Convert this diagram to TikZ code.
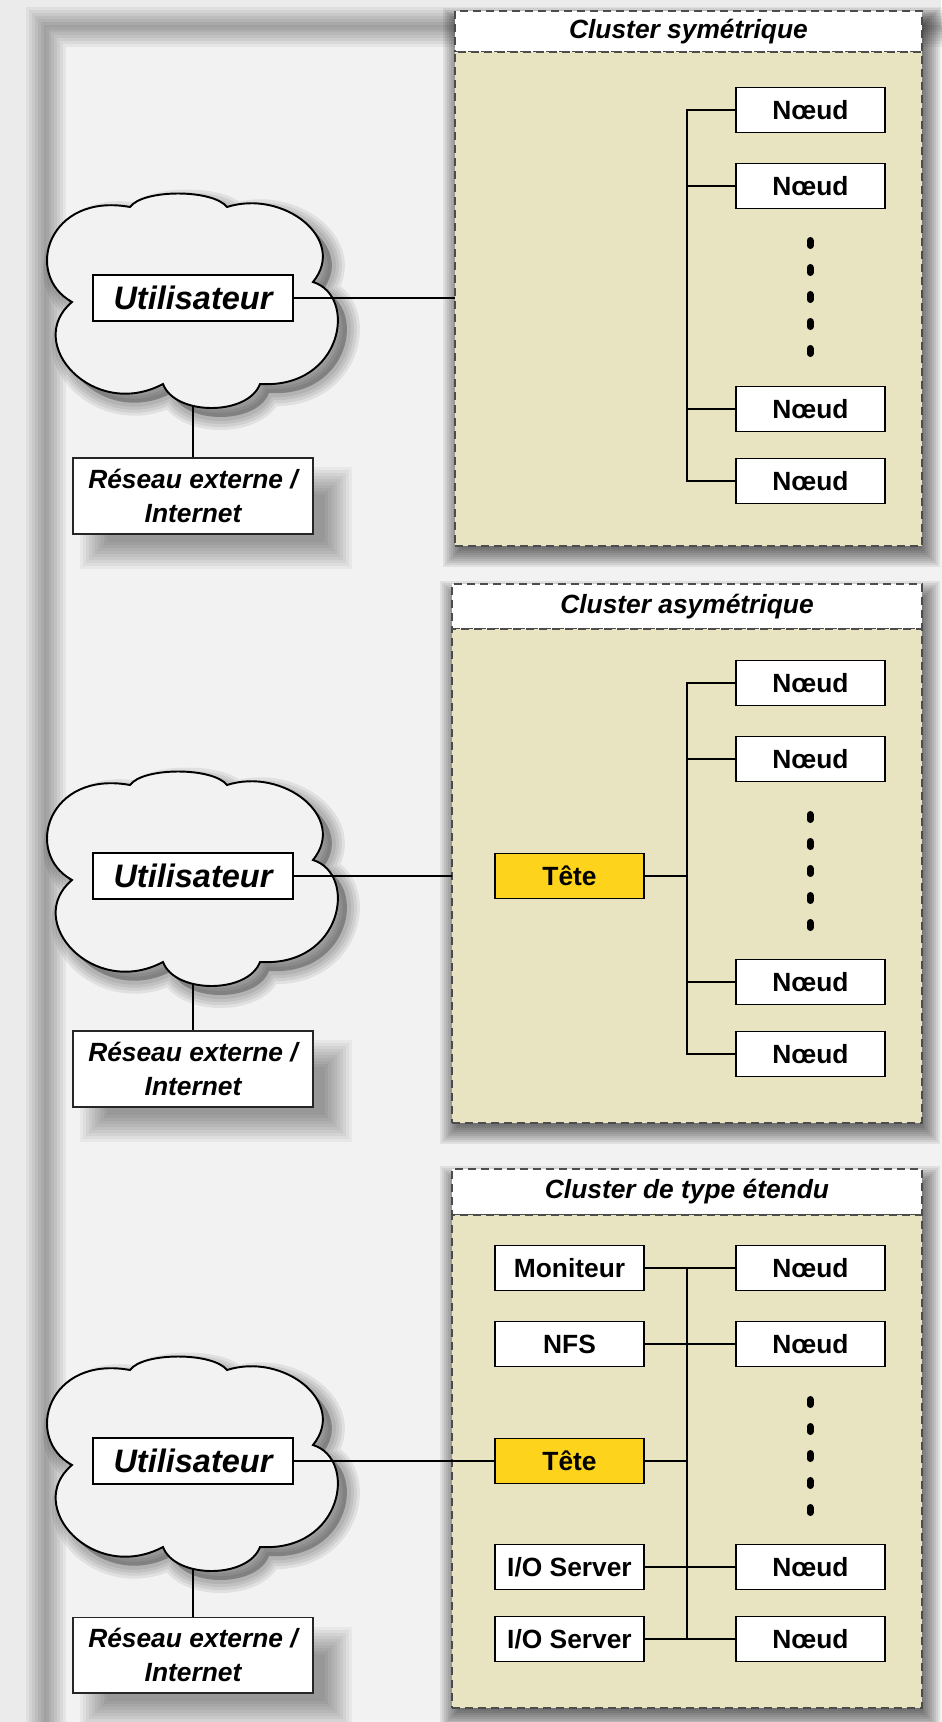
\documentclass[tikz,border=0pt]{standalone}
\usepackage{fontspec}
\setmainfont{Liberation Sans}
\usetikzlibrary{positioning,calc}
\definecolor{clusterbeige}{HTML}{E8E4C1}
\definecolor{headyellow}{HTML}{FDD31B}
\pgfdeclarelayer{backdrop}
\pgfdeclarelayer{shade}
\pgfsetlayers{backdrop,shade,main}
\newcommand{\cloudpath}{(-121,1) .. controls (-170,-26) and (-145,-109) .. (-63,-94)
  .. controls (-50,-112) and (20,-112) .. (34,-94)
  .. controls (90,-112) and (155,-62) .. (120,-19)
  .. controls (165,-5) and (150,88) .. (67,83)
  .. controls (55,115) and (-18,115) .. (-30,83)
  .. controls (-100,120) and (-170,42) .. (-121,1) -- cycle}
% soft shadow: nested rectangles between two corners
\newcommand{\dropshade}[4]{%
  \foreach \k in {0,...,9}
    \fill[black, opacity=#3] ($#1+(#4*\k,#4*\k)$) rectangle ($#2+(-#4*\k,-#4*\k)$);}
\tikzset{
  usercloud/.pic={
    \begin{scope}[shift={(9,9)}]
      \foreach \w in {26,20,14,8}
        \draw[black, opacity=0.07, line width=\w*0.02cm] \cloudpath;
      \fill[black, opacity=0.28] \cloudpath;
    \end{scope}
    \path[cloudline] \cloudpath;
    \coordinate (-bottom) at (0,104);
  }
}
\begin{document}
\begin{tikzpicture}[
  x=0.02cm, y=-0.02cm,
  nodebox/.style={draw, line width=1.1pt, fill=white, minimum width=2.98cm, minimum height=0.9cm, inner sep=0pt, outer sep=0pt, font=\fontsize{15}{18}\selectfont\bfseries},
  headbox/.style={nodebox, fill=headyellow},
  userbox/.style={draw, line width=0.85pt, fill=white, minimum width=4cm, minimum height=0.92cm, inner sep=0pt, font=\fontsize{18.5}{22}\selectfont\bfseries\itshape},
  netbox/.style={draw=black!85, line width=0.6pt, fill=white, minimum width=4.8cm, minimum height=1.52cm, inner sep=0pt, align=center, font=\fontsize{15}{19.4}\selectfont\bfseries\itshape},
  cloudline/.style={draw, line width=1.1pt, fill=black!5},
  ctitle/.style={draw=black!70, line width=0.8pt, dash pattern=on 0.16cm off 0.1cm, fill=white, inner sep=0pt, outer sep=0pt, font=\fontsize{15}{18}\selectfont\bfseries\itshape},
  cbody/.style={ctitle, fill=clusterbeige, minimum height=9.88cm},
  wire/.style={line width=0.75pt},
  busline/.style={line width=1pt},
  dotmark/.style={line width=0.14cm, line cap=round}
]
\useasboundingbox (0,0) rectangle (941,1722);
% frame behind everything
\begin{pgfonlayer}{backdrop}
  \fill[black!8] (0,0) rectangle (941,1722);
  \fill[black!5] (46,27) rectangle (1000,1800);
  \foreach \w in {40,34,28,22,16,10,5}
    \draw[black, opacity=0.05, line width=\w*0.02cm] (46,27) rectangle (1000,1800);
\end{pgfonlayer}

% cluster symetrique
\node[ctitle, minimum width=9.34cm, minimum height=0.82cm] (t1) at (688.5,31.5) {Cluster symétrique};
\node[cbody, minimum width=9.34cm, below=0pt of t1] (b1) {};
\node[nodebox] (n11) at (810.5,110) {Nœud};
\node[nodebox, below=0.62cm of n11] (n12) {Nœud};
\node[nodebox] (n13) at (810.5,409) {Nœud};
\node[nodebox, below=0.54cm of n13] (n14) {Nœud};
\foreach \y in {243,270,...,351}
  \draw[dotmark] (810,\y-2.5) -- (810,\y+2.5);
\coordinate (bus1) at (687,0);
\draw[busline] (n11.west) -| (bus1 |- n14.west) -- (n14.west);
\draw[busline] (n12.west) -- (bus1 |- n12.west);
\draw[busline] (n13.west) -- (bus1 |- n13.west);
\pic (cl1) at (193,301) {usercloud};
\node[userbox] (user1) at (193,298) {Utilisateur};
\node[netbox] (net1) at (193,496) {Réseau externe /\\Internet};
\draw[wire] (cl1-bottom) -- (net1.north);
\draw[wire] (user1.east) -- (user1.east -| b1.west);
\begin{pgfonlayer}{shade}
  \dropshade{(t1.north west)+(-12,-3)}{(b1.south east)+(18,21)}{0.07}{2}
  \dropshade{(net1.north west)+(8,10)}{(net1.south east)+(38,34)}{0.045}{3}
\end{pgfonlayer}

% cluster asymetrique
\node[ctitle, minimum width=9.4cm, minimum height=0.9cm] (t2) at (687,606.5) {Cluster asymétrique};
\node[cbody, minimum width=9.4cm, below=0pt of t2] (b2) {};
\node[nodebox] (n21) at (810.5,683) {Nœud};
\node[nodebox, below=0.62cm of n21] (n22) {Nœud};
\node[nodebox] (n23) at (810.5,982) {Nœud};
\node[nodebox, below=0.54cm of n23] (n24) {Nœud};
\node[headbox] (head2) at (569.5,876) {Tête};
\foreach \y in {817,844,...,925}
  \draw[dotmark] (810,\y-2.5) -- (810,\y+2.5);
\coordinate (bus2) at (687,0);
\draw[busline] (n21.west) -| (bus2 |- n24.west) -- (n24.west);
\draw[busline] (n22.west) -- (bus2 |- n22.west);
\draw[busline] (n23.west) -- (bus2 |- n23.west);
\draw[busline] (head2.east) -- (bus2 |- head2.east);
\pic (cl2) at (193,879) {usercloud};
\node[userbox] (user2) at (193,876) {Utilisateur};
\node[netbox] (net2) at (193,1069) {Réseau externe /\\Internet};
\draw[wire] (cl2-bottom) -- (net2.north);
\draw[wire] (user2.east) -- (user2.east -| b2.west);
\begin{pgfonlayer}{shade}
  \dropshade{(t2.north west)+(-12,-3)}{(b2.south east)+(18,21)}{0.07}{2}
  \dropshade{(net2.north west)+(8,10)}{(net2.south east)+(38,34)}{0.045}{3}
\end{pgfonlayer}

% cluster etendu
\node[ctitle, minimum width=9.4cm, minimum height=0.92cm] (t3) at (687,1192) {Cluster de type étendu};
\node[cbody, minimum width=9.4cm, minimum height=9.86cm, below=0pt of t3] (b3) {};
\node[nodebox] (mon3) at (569.5,1268) {Moniteur};
\node[nodebox, below=0.62cm of mon3] (nfs3) {NFS};
\node[headbox] (head3) at (569.5,1461) {Tête};
\node[nodebox] (io31) at (569.5,1567) {I/O Server};
\node[nodebox, below=0.54cm of io31] (io32) {I/O Server};
\node[nodebox] (n31) at (810.5,1268) {Nœud};
\node[nodebox, below=0.62cm of n31] (n32) {Nœud};
\node[nodebox] (n33) at (810.5,1567) {Nœud};
\node[nodebox, below=0.54cm of n33] (n34) {Nœud};
\foreach \y in {1402,1429,...,1510}
  \draw[dotmark] (810,\y-2.5) -- (810,\y+2.5);
\coordinate (bus3) at (687,0);
\draw[busline] (mon3.east) -- (n31.west);
\draw[busline] (nfs3.east) -- (n32.west);
\draw[busline] (io31.east) -- (n33.west);
\draw[busline] (io32.east) -- (n34.west);
\draw[busline] (bus3 |- n31.west) -- (bus3 |- n34.west);
\draw[busline] (head3.east) -- (bus3 |- head3.east);
\pic (cl3) at (193,1464) {usercloud};
\node[userbox] (user3) at (193,1461) {Utilisateur};
\node[netbox] (net3) at (193,1655) {Réseau externe /\\Internet};
\draw[wire] (cl3-bottom) -- (net3.north);
\draw[wire] (user3.east) -- (head3.west);
\begin{pgfonlayer}{shade}
  \dropshade{(t3.north west)+(-12,-3)}{(b3.south east)+(18,21)}{0.07}{2}
  \dropshade{(net3.north west)+(8,10)}{(net3.south east)+(38,34)}{0.045}{3}
\end{pgfonlayer}
\end{tikzpicture}
\end{document}
